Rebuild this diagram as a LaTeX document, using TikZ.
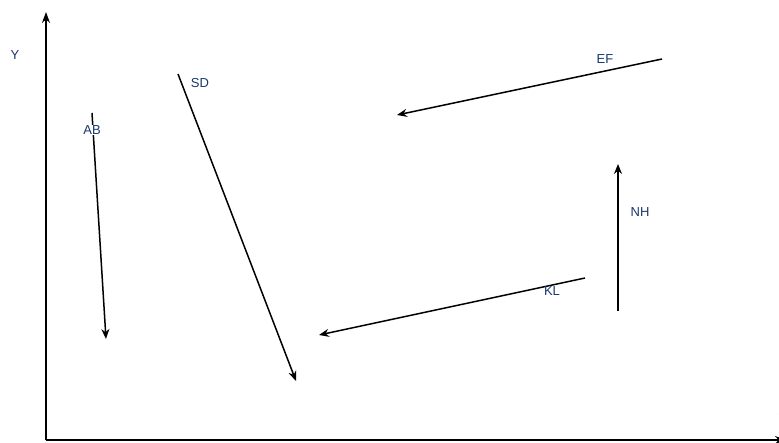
\documentclass[tikz,border=0pt]{standalone}
\usepackage{fontspec}
\setmainfont{Liberation Sans}
\usepackage{xcolor}
\usepackage{tikz}
\usetikzlibrary{arrows.meta,positioning,calc}
\definecolor{VECblue}{RGB}{25,55,110}
\tikzstyle{vlab}  = [font=\fontsize{13}{15}\selectfont, text=VECblue, inner sep=1pt]
\tikzstyle{vec}   = [-{Stealth[length=10pt,width=8pt]}, line width=1.5pt]
\tikzstyle{axis}  = [-{Stealth[length=11pt,width=8pt]}, line width=1.6pt]

\begin{document}
\begin{tikzpicture}[x=1pt, y=-1pt]
  \useasboundingbox (0,0) rectangle (779,443);
  % axes
  \coordinate (O) at (46,440);
  \coordinate (ytop) at (46,12);
  \coordinate (xend) at (786,440);
  \draw[axis] (O) -- (ytop);
  \draw[axis] (O) -- (xend);
  \node[vlab] (ylab) at (15,55) {Y};
  \node[vlab] (xlab) at (783,410) {X};
  % vectors
  \coordinate (ab1) at (92,113);  \coordinate (ab2) at (106,339);
  \coordinate (sd1) at (178,74);  \coordinate (sd2) at (296,381);
  \coordinate (ef1) at (662,59);  \coordinate (ef2) at (397,115);
  \coordinate (nh1) at (618,311); \coordinate (nh2) at (618,164);
  \coordinate (kl1) at (585,278); \coordinate (kl2) at (319,335);
  \draw[vec] (ab1) -- (ab2);
  \draw[vec] (sd1) -- (sd2);
  \draw[vec] (ef1) -- (ef2);
  \draw[vec] (nh1) -- (nh2);
  \draw[vec] (kl1) -- (kl2);
  % labels
  \node[vlab, fill=white] (ablab) at (92,130) {AB};
  \node[vlab] (sdlab) at (200,83) {SD};
  \node[vlab] (eflab) at (605,59) {EF};
  \node[vlab] (nhlab) at (640,212) {NH};
  \node[vlab] (kllab) at (552,291) {KL};
\end{tikzpicture}
\end{document}
